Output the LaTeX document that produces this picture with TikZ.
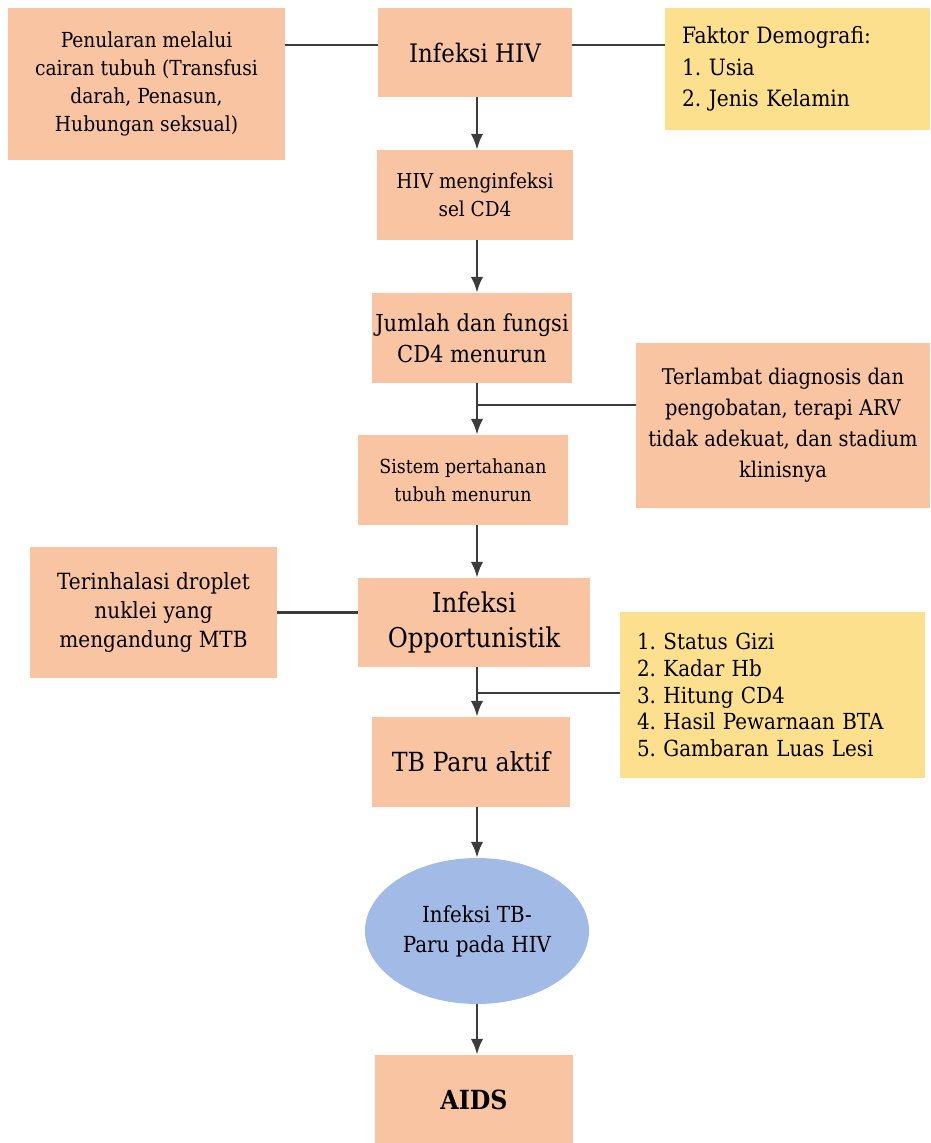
\documentclass[tikz,border=0pt]{standalone}
\usepackage{fontspec}
\setmainfont{DejaVu Serif Condensed}
\usetikzlibrary{arrows.meta, positioning, shapes.geometric}
\definecolor{peach}{RGB}{249,196,162}
\definecolor{sand}{RGB}{252,224,142}
\definecolor{sky}{RGB}{162,186,230}
\definecolor{ink}{RGB}{60,60,60}
\tikzset {
    >={Latex[length=9pt,width=7pt]},
    box/.style={fill=peach, align=center, inner sep=2pt},
    listbox/.style={fill=sand, align=left, inner xsep=0.34cm},
    flow/.style={->, draw=ink, line width=1.3pt},
    link/.style={draw=ink, line width=1.3pt}
}
\frenchspacing

\begin{document}
\begin{tikzpicture}[x=0.02cm, y=-0.02cm]
    \useasboundingbox (0,0) rectangle (930,1143);
    \fill[white] (0,0) rectangle (930,1143);

    % main column
    \node[box, minimum width=3.88cm, minimum height=1.78cm, font=\fontsize{14.5}{17}\selectfont] (hiv) at (475,52.5) {Infeksi HIV};
    \node[box, minimum width=3.92cm, minimum height=1.8cm, font=\fontsize{11.7}{16}\selectfont] (cd4) at (475,195) {HIV menginfeksi\\sel CD4};
    \node[box, minimum width=4cm, minimum height=1.8cm, font=\fontsize{13.3}{17.5}\selectfont] (jumlah) at (472,338) {Jumlah dan fungsi\\CD4 menurun};
    \node[box, minimum width=4.2cm, minimum height=1.8cm, font=\fontsize{11}{16}\selectfont] (sistem) at (463,480) {Sistem pertahanan\\tubuh menurun};
    \node[box, minimum width=4.64cm, minimum height=1.78cm, font=\fontsize{15.5}{20}\selectfont] (oportun) at (474,622.5) {Infeksi\\Opportunistik};
    \node[box, minimum width=3.96cm, minimum height=1.8cm, font=\fontsize{15}{17}\selectfont] (tbparu) at (471,762) {TB Paru aktif};
    \node[ellipse, fill=sky, inner sep=0pt, minimum width=4.48cm, minimum height=2.92cm, align=center, font=\fontsize{12.6}{17}\selectfont] (tbhiv) at (477,931) {Infeksi TB-\\Paru pada HIV};
    \node[box, minimum width=3.96cm, minimum height=1.8cm, font=\fontsize{15}{17}\bfseries] (aids) at (474,1100) {AIDS};

    % side boxes
    \node[box, minimum width=5.54cm, minimum height=3.04cm, font=\fontsize{11.8}{15.8}\selectfont] (penularan) at (146.5,84) {Penularan melalui\\cairan tubuh (Transfusi\\darah, Penasun,\\Hubungan seksual)};
    \node[listbox, text width=4.62cm, minimum height=2.44cm, font=\fontsize{12.8}{17.8}\selectfont] (demografi) at (797.5,69) {Faktor Demografi:\\1. Usia\\2. Jenis Kelamin};
    \node[box, minimum width=5.88cm, minimum height=3.3cm, font=\fontsize{12.3}{17.6}\selectfont] (terlambat) at (783,425.5) {Terlambat diagnosis dan\\pengobatan, terapi ARV\\tidak adekuat, dan stadium\\klinisnya};
    \node[box, minimum width=4.94cm, minimum height=2.62cm, font=\fontsize{12.7}{16.5}\selectfont] (droplet) at (153.5,612.5) {Terinhalasi droplet\\nuklei yang\\mengandung MTB};
    \node[listbox, text width=5.42cm, minimum height=3.32cm, font=\fontsize{12.6}{15.3}\selectfont] (faktor) at (772.5,695) {1. Status Gizi\\2. Kadar Hb\\3. Hitung CD4\\4. Hasil Pewarnaan BTA\\5. Gambaran Luas Lesi};

    \coordinate (j1) at (477,405);
    \coordinate (j2) at (477,693);

    % arrows
    \draw[flow] (hiv.south -| j1) -- (cd4.north -| j1);
    \draw[flow] (cd4.south -| j1) -- (jumlah.north -| j1);
    \draw[flow] (jumlah.south -| j1) -- (sistem.north -| j1);
    \draw[flow] (sistem.south -| j1) -- (oportun.north -| j1);
    \draw[flow] (oportun.south -| j1) -- (tbparu.north -| j1);
    \draw[flow] (tbparu.south -| j1) -- (tbhiv.north);
    \draw[flow] (tbhiv.south) -- (aids.north -| tbhiv.south);

    % side links
    \draw[link] (penularan.east |- 0,45) -- (hiv.west |- 0,45);
    \draw[link] (hiv.east |- 0,45) -- (demografi.west |- 0,45);
    \draw[link] (terlambat.west |- j1) -- (j1);
    \draw[link] (droplet.east) -- (droplet.east -| oportun.west);
    \draw[link] (faktor.west |- j2) -- (j2);
\end{tikzpicture}
\end{document}
